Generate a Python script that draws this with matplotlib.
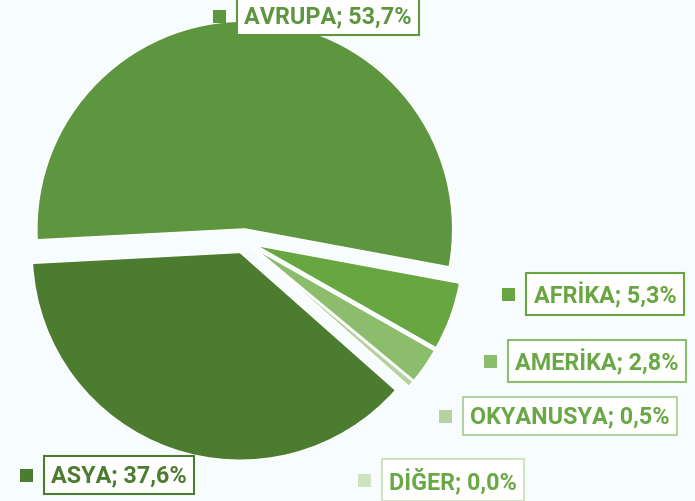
import matplotlib.pyplot as plt
from matplotlib.patches import Rectangle

# slices, clockwise starting at AVRUPA
regions = ['AVRUPA', 'AFRİKA', 'AMERİKA', 'OKYANUSYA', 'DİĞER', 'ASYA']
shares = [53.7, 5.3, 2.8, 0.5, 0.0, 37.6]
slice_colors = ['#5e9640', '#68a641', '#8cbd6c', '#b5d3a0', '#cfe3c2', '#4b7c2f']
text_colors = ['#5e9640', '#68a641', '#6aa846', '#6aa846', '#6aa846', '#4b7c2f']

# label box centres in pixels (x, y from top)
label_pos = [(328, 17), (605, 295), (597, 362), (570, 417), (453, 481), (119, 476)]

W, H = 695, 502
fig = plt.figure(figsize=(W / 100, H / 100), dpi=100)
fig.patch.set_facecolor('#f7fcfe')
ax = fig.add_axes([0, 0, 1, 1])
ax.set_facecolor('#f7fcfe')

cx, cy, r = 244, H - 242, 208
sizes = [max(s, 1e-6) for s in shares]
# explode is in data units here (pixels)
ax.pie(sizes, colors=slice_colors, startangle=183, counterclock=False,
       explode=[12] * len(sizes), center=(cx, cy), radius=r,
       wedgeprops=dict(edgecolor='white', linewidth=1.2))

ax.set_xlim(0, W)
ax.set_ylim(0, H)
ax.set_aspect('equal')
ax.axis('off')

for name, val, col, tcol, (x, y) in zip(regions, shares, slice_colors, text_colors, label_pos):
    txt = f"{name}; {val:.1f}%".replace('.', ',')
    t = ax.text(x, H - y, txt, ha='center', va='center', fontsize=16.8,
                fontweight='bold', family=['Roboto', 'DejaVu Sans'], color=tcol,
                bbox=dict(boxstyle='square,pad=0.32', fc='white', ec=col, lw=1.5))
    fig.canvas.draw()
    bb = t.get_bbox_patch().get_window_extent()
    ax.add_patch(Rectangle((bb.x0 - 24, H - y - 6.5), 13, 13, color=col, lw=0))

fig.savefig('out.png', dpi=100, facecolor=fig.get_facecolor())
